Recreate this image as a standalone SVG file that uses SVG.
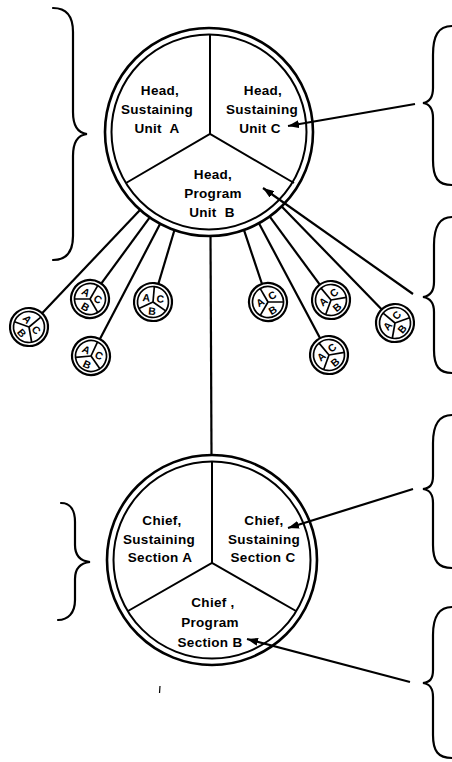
<svg xmlns="http://www.w3.org/2000/svg" xmlns:xlink="http://www.w3.org/1999/xlink" width="452" height="762" viewBox="0 0 452 762">
<style>
.ring{fill:#fff;stroke:#000;stroke-width:2.6}
.ring2{fill:none;stroke:#000;stroke-width:2}
.spoke{stroke:#000;stroke-width:2;fill:none}
.lbl{font-family:"Liberation Sans",Arial,sans-serif;font-weight:bold;font-size:13.5px;fill:#000;text-anchor:middle;letter-spacing:0.3px}
.mini{font-family:"Liberation Sans",Arial,sans-serif;font-weight:bold;font-size:10.5px;fill:#000;text-anchor:middle}
.ln{stroke:#000;stroke-width:2.2;fill:none}
.brace{stroke:#000;stroke-width:2.2;fill:none;stroke-linecap:round}
</style>
<defs>
<marker id="ah" viewBox="0 0 11 8" refX="11" refY="4" markerWidth="11" markerHeight="8" markerUnits="userSpaceOnUse" orient="auto">
<path d="M0,0 L11,4 L0,8 Z" fill="#000"/>
</marker>
<g id="mini">
<circle r="19" fill="#fff" stroke="#000" stroke-width="2.2"/>
<circle r="15.5" fill="none" stroke="#000" stroke-width="1.7"/>
<line x1="0" y1="0" x2="0" y2="-15.5" stroke="#000" stroke-width="1.7"/>
<line x1="0" y1="0" x2="13.4" y2="7.75" stroke="#000" stroke-width="1.7"/>
<line x1="0" y1="0" x2="-13.4" y2="7.75" stroke="#000" stroke-width="1.7"/>
<text class="mini" x="-7" y="0">A</text>
<text class="mini" x="7" y="0">C</text>
<text class="mini" x="0" y="13">B</text>
</g>
</defs>
<rect width="452" height="762" fill="#fff"/>

<g id="connectors">
<line class="ln" x1="210.5" y1="235" x2="211.5" y2="455"/>
<line class="ln" x1="140" y1="210" x2="42.1" y2="313.2"/>
<line class="ln" x1="149.4" y1="217.8" x2="101.2" y2="283.7"/>
<line class="ln" x1="160.3" y1="223.6" x2="99.8" y2="339.2"/>
<line class="ln" x1="174.4" y1="230.2" x2="158.4" y2="283.8"/>
<line class="ln" x1="244" y1="230.2" x2="262" y2="284"/>
<line class="ln" x1="259.2" y1="223.7" x2="320.1" y2="338.2"/>
<line class="ln" x1="269.4" y1="216.2" x2="319.8" y2="284.7"/>
<line class="ln" x1="281.7" y1="206.5" x2="381.8" y2="309.4"/>
</g>

<g id="head-unit">
<circle class="ring" cx="209" cy="132" r="104"/>
<circle class="ring2" cx="209" cy="132" r="97.5"/>
<path class="spoke" d="M210,35 L210,134 M126,183 L210,134 L294,183"/>
<text class="lbl" x="160" y="95">Head,</text>
<text class="lbl" x="157" y="114">Sustaining</text>
<text class="lbl" x="157" y="133" xml:space="preserve">Unit  A</text>
<text class="lbl" x="263" y="95">Head,</text>
<text class="lbl" x="262" y="114">Sustaining</text>
<text class="lbl" x="260" y="133">Unit C</text>
<text class="lbl" x="213" y="179">Head,</text>
<text class="lbl" x="213" y="198">Program</text>
<text class="lbl" x="212" y="217" xml:space="preserve">Unit  B</text>
</g>

<g id="sub1"><use xlink:href="#mini" href="#mini" transform="translate(29,327) rotate(50)"/></g>
<g id="sub2"><use xlink:href="#mini" href="#mini" transform="translate(90,299) rotate(30)"/></g>
<g id="sub3"><use xlink:href="#mini" href="#mini" transform="translate(153,302) rotate(5)"/></g>
<g id="sub4"><use xlink:href="#mini" href="#mini" transform="translate(91,356) rotate(25)"/></g>
<g id="sub5"><use xlink:href="#mini" href="#mini" transform="translate(268,302) rotate(-30)"/></g>
<g id="sub6"><use xlink:href="#mini" href="#mini" transform="translate(331,300) rotate(-40)"/></g>
<g id="sub7"><use xlink:href="#mini" href="#mini" transform="translate(329,355) rotate(-40)"/></g>
<g id="sub8"><use xlink:href="#mini" href="#mini" transform="translate(395,323) rotate(-50)"/></g>

<g id="chief-section">
<circle class="ring" cx="212" cy="560" r="105"/>
<circle class="ring2" cx="212" cy="560" r="98.5"/>
<path class="spoke" d="M212,462 L212,563 M128,611 L212,563 L296,611"/>
<text class="lbl" x="162" y="525">Chief,</text>
<text class="lbl" x="159" y="544">Sustaining</text>
<text class="lbl" x="160" y="562">Section A</text>
<text class="lbl" x="264" y="525">Chief,</text>
<text class="lbl" x="264" y="544">Sustaining</text>
<text class="lbl" x="263" y="562">Section C</text>
<text class="lbl" x="213" y="607">Chief ,</text>
<text class="lbl" x="210" y="627">Program</text>
<text class="lbl" x="210" y="647">Section B</text>
</g>

<g id="arrows">
<line class="ln" x1="415" y1="104" x2="288" y2="126" marker-end="url(#ah)"/>
<line class="ln" x1="413" y1="294" x2="263" y2="188" marker-end="url(#ah)"/>
<line class="ln" x1="413" y1="489" x2="288" y2="528" marker-end="url(#ah)"/>
<line class="ln" x1="410" y1="682" x2="247" y2="639" marker-end="url(#ah)"/>
</g>

<g id="braces">
<path class="brace" d="M53,8 C66,8 73,16 73,32 L73,112 C73,126 78,133 87,134 C78,135 73,142 73,156 L73,236 C73,252 66,260 53,260"/>
<path class="brace" d="M61,503 C70,503 75,510 75,522 L75,545 C75,555 80,561 90,562 C80,563 75,569 75,579 L75,600 C75,613 68,620 58,620"/>
<path class="brace" d="M452,26 C438,26 433,36 433,55 L433,88 C433,97 430,102 423,103 C430,104 433,109 433,118 L433,160 C433,178 438,185 452,185"/>
<path class="brace" d="M452,217 C439,217 434,228 434,245 L434,282 C434,292 430,296 423,297 C430,298 434,302 434,312 L434,350 C434,366 439,373 452,373"/>
<path class="brace" d="M452,415 C438,415 433,426 433,443 L433,476 C433,485 430,488 423,489 C430,490 433,494 433,503 L433,545 C433,561 438,568 452,568"/>
<path class="brace" d="M452,607 C438,607 433,618 433,635 L433,670 C433,679 430,682 423,683 C430,684 433,688 433,697 L433,735 C433,751 438,758 452,758"/>
</g>
<line x1="160" y1="686" x2="159.5" y2="693" stroke="#000" stroke-width="1.2"/>
</svg>
